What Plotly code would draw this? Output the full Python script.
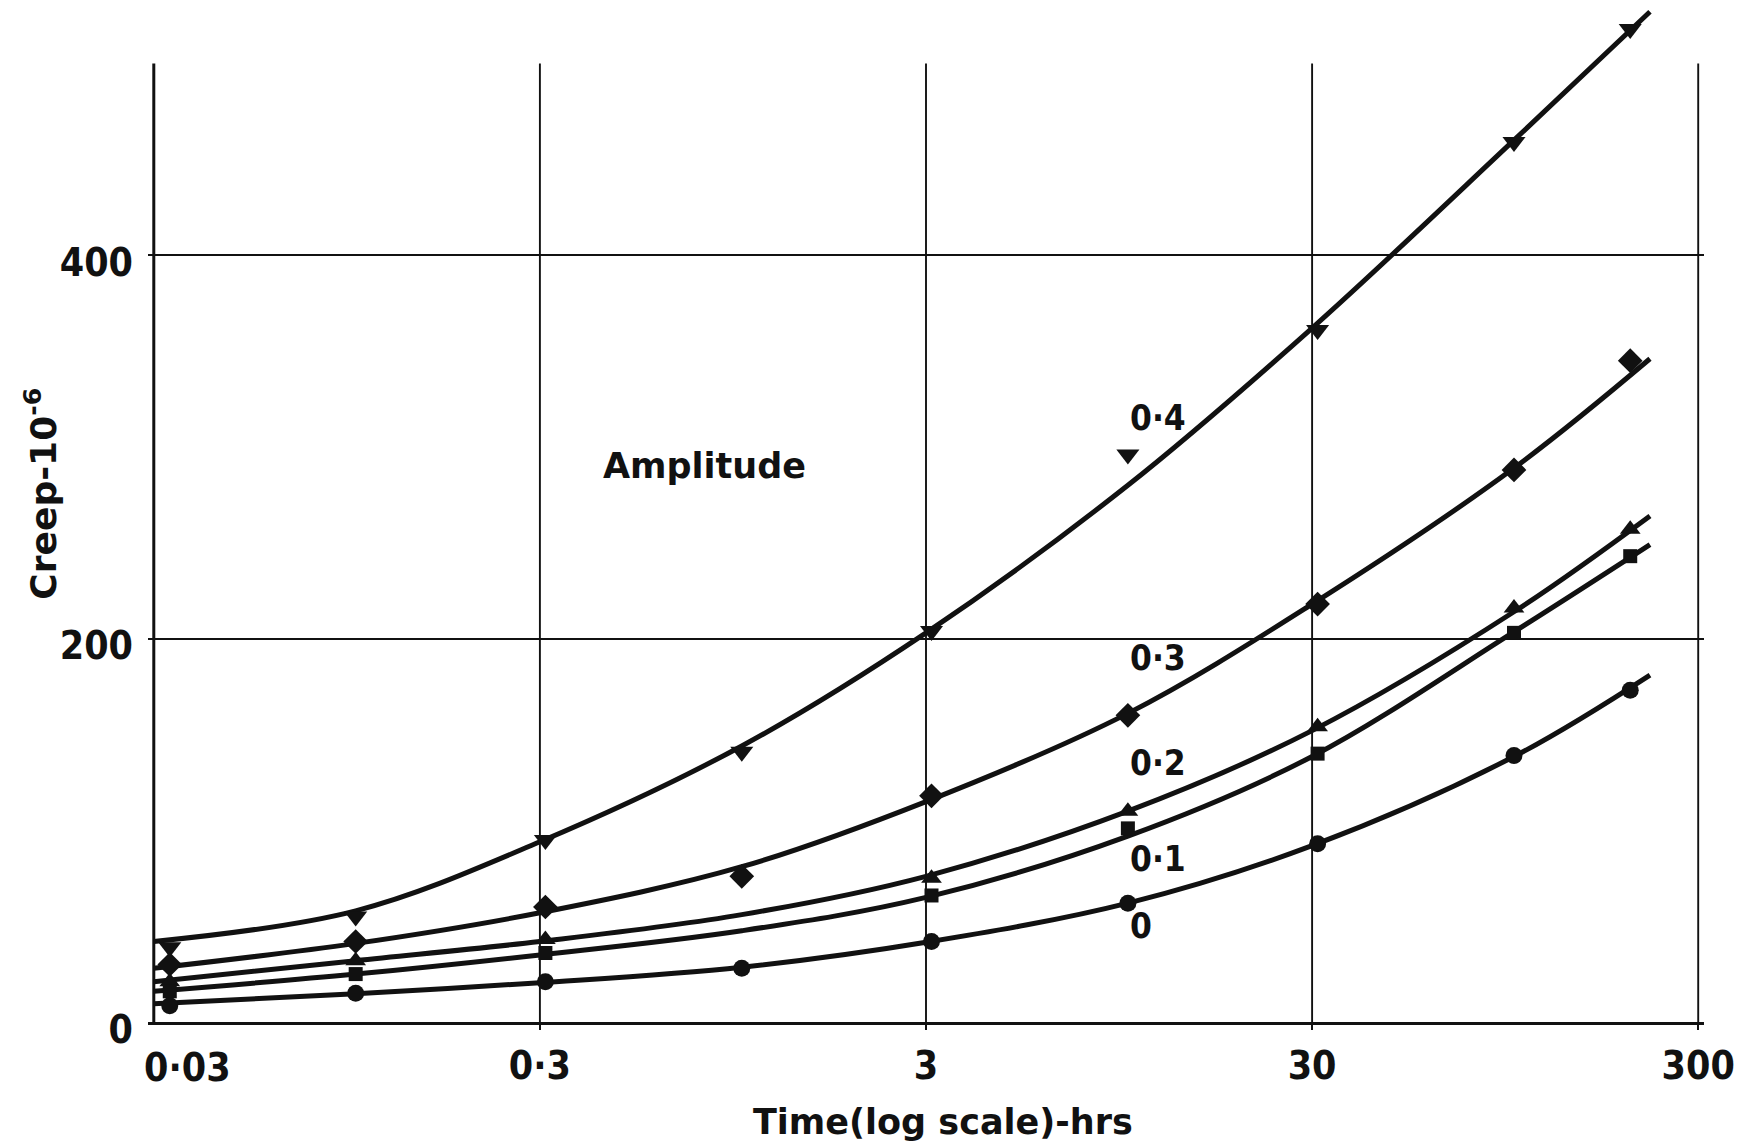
import math
import plotly.graph_objects as go

# Times (hours) at which creep was measured
times = [0.033, 0.1, 0.31, 1.0, 3.1, 10, 31, 100, 200]

# Measured creep (x10^-6) for each vibration amplitude
creep_04 = [39, 55, 95, 141, 204, 296, 361, 459, 518]
creep_03 = [30, 42, 60, 76, 118, 160, 218, 288, 345]
creep_02 = [21, 32, 43, None, 75, 110, 154, 216, 257]
creep_01 = [16, 25, 36, None, 66, 101, 140, 203, 243]
creep_00 = [8.5, 15, 21, 28, 42, 62, 93, 139, 173]

# Hand-faired trend curves through the measurements
curve_times = [0.03, 0.1, 0.3, 1, 3, 10, 30, 100, 225]
curve_04 = [42, 58, 94, 144, 203, 280, 362, 460, 527]
curve_03 = [28, 41, 57, 81, 115, 161, 218, 289, 346]
curve_02 = [21, 32, 42, 56, 76, 110, 152, 214, 264]
curve_01 = [16, 25, 35, 47.6, 65, 97, 138.5, 203.5, 249]
curve_00 = [9.5, 14.7, 20.5, 28.6, 41.6, 62, 92, 138.5, 181]

amplitude_labels = ["0·4", "0·3", "0·2", "0·1", "0"]
amplitude_label_y = [315, 190, 135, 85, 50]
markers = ["triangle-down", "diamond", "triangle-up", "square", "circle"]
marker_sizes = [20, 19, 18, 14, 17]

# Axis ticks
x_ticks = [0.03, 0.3, 3, 30, 300]
x_tick_text = ["0·03", "0·3", "3", "30", "300"]
y_ticks = [0, 200, 400]
grid_top = 500

x_title = "Time(log scale)-hrs"
y_title = "Creep-10<sup>-6</sup>"

INK = "#111111"
NUM_FONT = "DejaVu Sans Condensed, Liberation Sans Narrow, sans-serif"
TXT_FONT = "DejaVu Sans, Liberation Sans, sans-serif"

points = [creep_04, creep_03, creep_02, creep_01, creep_00]
curves = [curve_04, curve_03, curve_02, curve_01, curve_00]

fig = go.Figure()

# Decade lines (left axis, inner decades, right edge) stopping at the top of the grid
for i, gx in enumerate(x_ticks):
    fig.add_trace(go.Scatter(
        x=[gx, gx], y=[0, grid_top], mode="lines",
        line=dict(color=INK, width=3 if i == 0 else 1.9),
        hoverinfo="skip", showlegend=False))

# Faired curves
for cv in curves:
    fig.add_trace(go.Scatter(
        x=curve_times, y=cv, mode="lines",
        line=dict(color=INK, width=5, shape="spline", smoothing=1.0),
        hoverinfo="skip", showlegend=False))

# Measured points
for pts, sym, sz, lab in zip(points, markers, marker_sizes, amplitude_labels):
    fig.add_trace(go.Scatter(
        x=times, y=pts, mode="markers", name=lab,
        marker=dict(symbol=sym, size=sz, color=INK, line=dict(width=0)),
        showlegend=False))

# Amplitude labels beside the curves
for lab, ly in zip(amplitude_labels, amplitude_label_y):
    fig.add_annotation(x=math.log10(10), y=ly, text=lab, showarrow=False,
                       xanchor="left", yanchor="middle",
                       font=dict(family=NUM_FONT, size=35, color=INK, weight="bold"))

fig.add_annotation(x=math.log10(0.8), y=290, text="Amplitude", showarrow=False,
                   xanchor="center", yanchor="middle",
                   font=dict(family=TXT_FONT, size=35, color=INK, weight="bold"))

# First time label sits to the right of the axis corner
fig.add_annotation(x=math.log10(x_ticks[0]), y=0, text=x_tick_text[0], showarrow=False,
                   xanchor="left", yanchor="top", yshift=-21, xshift=-12,
                   font=dict(family=NUM_FONT, size=39, color=INK, weight="bold"))

# Axis titles
fig.add_annotation(xref="paper", yref="paper", x=0.511, y=-0.098, text=x_title,
                   showarrow=False, xanchor="center", yanchor="middle",
                   font=dict(family=TXT_FONT, size=35, color=INK, weight="bold"))
fig.add_annotation(xref="paper", yref="paper", x=-0.0688, y=0.52, text=y_title,
                   textangle=-90, showarrow=False, xanchor="center", yanchor="middle",
                   font=dict(family=TXT_FONT, size=36, color=INK, weight="bold"))

pad = 0.015
fig.update_xaxes(
    type="log",
    range=[math.log10(x_ticks[0]) - pad, math.log10(x_ticks[-1]) + pad],
    tickvals=x_ticks[1:],
    ticktext=x_tick_text[1:],
    showgrid=False, zeroline=False,
    showline=True, linecolor=INK, linewidth=2.6,
    ticks="outside", ticklen=5, tickwidth=1.6, tickcolor=INK,
    ticklabelstandoff=2,
    automargin=False,
    tickfont=dict(family=NUM_FONT, size=39, color=INK, weight="bold"),
)
fig.update_yaxes(
    range=[0, 530],
    tickvals=y_ticks,
    ticktext=[str(v) for v in y_ticks],
    showgrid=True, gridcolor=INK, gridwidth=2,
    zeroline=False, showline=False, ticks="",
    ticklabelstandoff=14, ticklabelshift=7,
    automargin=False,
    tickfont=dict(family=NUM_FONT, size=39, color=INK, weight="bold"),
)

fig.update_layout(
    width=1740, height=1143,
    margin=dict(l=147.5, r=36, t=5.7, b=121.3),
    paper_bgcolor="white", plot_bgcolor="white",
    showlegend=False,
)

fig.write_html("out.html")
